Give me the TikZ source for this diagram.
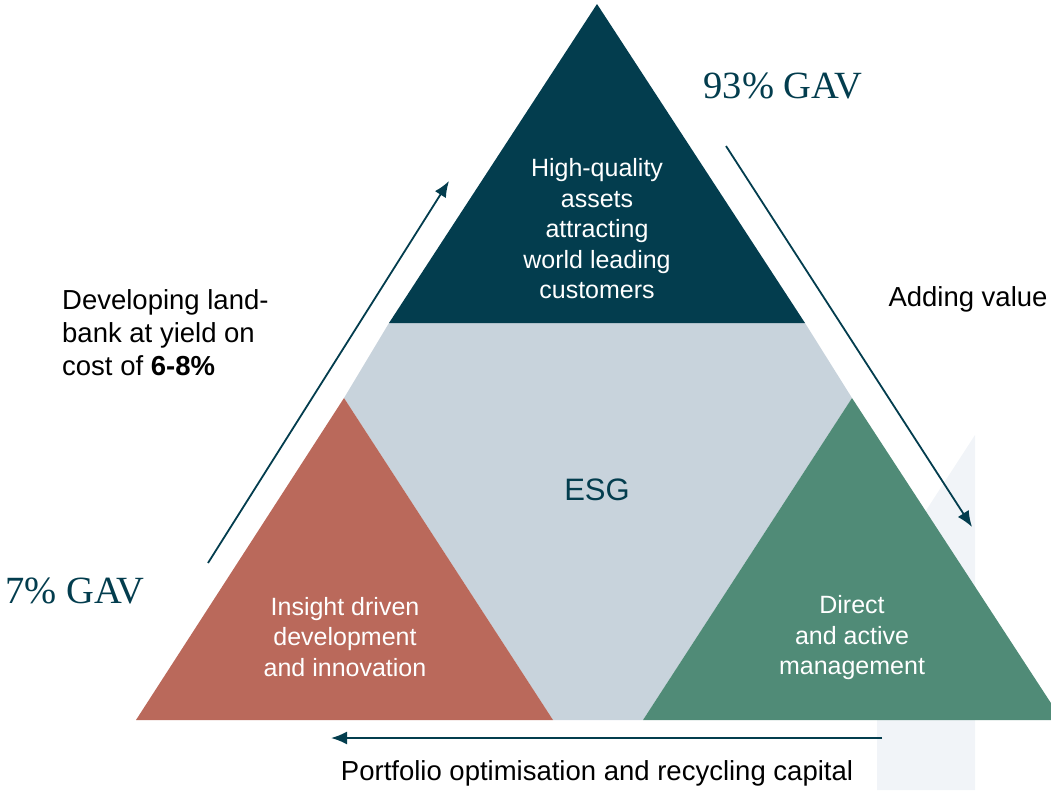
\documentclass[tikz,border=0pt]{standalone}
\usepackage{fontspec}
\setmainfont{Liberation Sans}
\newfontfamily\gavfont{Liberation Serif}
\usetikzlibrary{positioning,arrows.meta}

\definecolor{darkteal}{HTML}{033D4E}
\definecolor{esggray}{HTML}{C8D3DC}
\definecolor{brick}{HTML}{BA695B}
\definecolor{sage}{HTML}{508B77}
\definecolor{palestrip}{HTML}{F1F4F8}

\begin{document}
\begin{tikzpicture}[x=1pt,y=-1pt,
    inner txt/.style={text=white,align=center,font=\fontsize{25}{30.5}\selectfont},
    side txt/.style={align=left,inner sep=0pt,font=\fontsize{27.5}{33}\selectfont},
    gav/.style={text=darkteal,inner sep=0pt,font=\gavfont\fontsize{38.5}{40}\selectfont},
    flow/.style={draw=darkteal,line width=1.8pt,-{Latex[length=16pt,width=13pt]}}]
\useasboundingbox (0,0) rectangle (1051,790);

% pyramid
\begin{scope}
  \clip (0,0) rectangle (1051,790);
  \fill[palestrip] (975,435) -- (975,790) -- (877,790) -- (877,586) -- cycle;
  \fill[esggray] (389,323) -- (805,323) -- (852,398) -- (643,720) -- (553,720) -- (344,398) -- cycle;
  \fill[darkteal] (597,4) -- (805,323) -- (389,323) -- cycle;
  \fill[brick] (344,398) -- (553,720) -- (136,720) -- cycle;
  \fill[sage] (852,398) -- (1062,720) -- (643,720) -- cycle;
\end{scope}

\node[inner txt] (assets) at (597,229) {High-quality\\assets\\attracting\\world leading\\customers};
\node[inner txt] (insight) at (345,637) {Insight driven\\development\\and innovation};
\node[inner txt] (direct) at (852,638) {Direct\\and active\\management};
\node[text=darkteal,font=\fontsize{31}{34}\selectfont] (esg) at (597,490) {ESG};

\node[gav] (gavbig) at (783,86) {93\% GAV};
\node[gav] (gavsmall) at (75,591) {7\% GAV};

\node[side txt,anchor=west] (develop) at (62,333) {Developing land-\\bank at yield on\\cost of \textbf{6-8\%}};
\node[side txt] (adding) at (968,299) {Adding value};
\node[side txt] (recycle) at (597,773) {Portfolio optimisation and recycling capital};

% cycle arrows
\coordinate (up0) at (208,563);
\coordinate (up1) at (449,181);
\coordinate (dn0) at (726,146);
\coordinate (dn1) at (972,527);
\coordinate (bk0) at (882,738);
\coordinate (bk1) at (331,738);
\path[flow] (up0) -- (up1);
\path[flow] (dn0) -- (dn1);
\path[flow] (bk0) -- (bk1);
\end{tikzpicture}
\end{document}
